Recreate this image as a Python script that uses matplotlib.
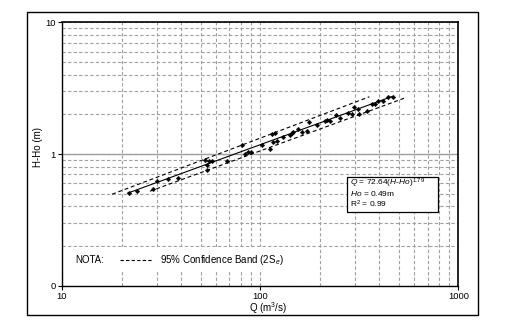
import matplotlib
matplotlib.use("Agg")
import matplotlib.pyplot as plt
from matplotlib.patches import Rectangle
from matplotlib.lines import Line2D
from matplotlib.ticker import FixedLocator, LogLocator, NullFormatter

plt.rcParams['font.family'] = ['Liberation Sans', 'DejaVu Sans']
plt.rcParams['mathtext.fontset'] = 'custom'
plt.rcParams['mathtext.rm'] = 'Liberation Sans'
plt.rcParams['mathtext.it'] = 'Liberation Sans:italic'

# ---- data ----
q_obs = [21.7, 23.9, 28.7, 30.1, 34.2, 38.4, 52.4, 53.8, 53.7, 55.5, 57.1, 67.8,
         80.9, 84.3, 87.0, 90.1, 102.0, 112.3, 114.6, 119.0, 116.7, 121.4, 131.1,
         141.7, 144.5, 147.2, 156.0, 162.3, 173.2, 177.3, 194.5, 211.5, 217.0,
         225.4, 241.7, 253.2, 278.8, 290.0, 297.9, 313.2, 315.0, 345.2, 365.9,
         380.2, 395.1, 415.8, 443.6, 465.8]
h_obs = [0.502, 0.526, 0.542, 0.624, 0.646, 0.657, 0.905, 0.822, 0.756, 0.890, 0.890, 0.882,
         1.170, 1.005, 1.036, 1.041, 1.177, 1.091, 1.426, 1.439, 1.223, 1.247, 1.341,
         1.389, 1.439, 1.469, 1.551, 1.469, 1.485, 1.744, 1.655, 1.790, 1.799,
         1.768, 1.964, 1.876, 2.034, 2.005, 2.275, 2.189, 2.005, 2.132, 2.401,
         2.410, 2.548, 2.517, 2.700, 2.714]

fit_q = [21.5, 465.0]
fit_h = [0.505, 2.74]
upper_q = [17.9, 356.0]
upper_h = [0.495, 2.72]
lower_q = [27.8, 540.0]
lower_h = [0.522, 2.67]

xticks = [10, 100, 1000]
xtick_labels = ['10', '100', '1000']
yticks = [0.1, 1, 10]
ytick_labels = ['0', '1', '10']

x_label = 'Q (m$^3$/s)'
y_label = 'H-Ho (m)'
note_label = 'NOTA:'
band_label = '95% Confidence Band (2S$_e$)'
eq_lines = ['$Q$ = 72.64($H$-$Ho$)$^{1.79}$', '$Ho$ = 0.49m', 'R$^2$ = 0.99']

# ---- figure ----
W, H = 513, 323
fig = plt.figure(figsize=(W / 100, H / 100), dpi=100)
ax_l, ax_r, ax_t, ax_b = 62, 458.3, 22.3, 285.7
ax = fig.add_axes([ax_l / W, 1 - ax_b / H, (ax_r - ax_l) / W, (ax_b - ax_t) / H])

# outer frame
fig.patches.append(Rectangle((27 / W, 1 - 315 / H), 451 / W, 303 / H,
                             transform=fig.transFigure, fill=False,
                             edgecolor='black', linewidth=1.0))

ax.set_xscale('log')
ax.set_yscale('log')
ax.set_xlim(10, 1000)
ax.set_ylim(0.1, 10)

ax.xaxis.set_major_locator(FixedLocator(xticks))
ax.set_xticklabels(xtick_labels)
ax.yaxis.set_major_locator(FixedLocator(yticks))
ax.set_yticklabels(ytick_labels)
ax.xaxis.set_minor_locator(LogLocator(base=10, subs=range(2, 10)))
ax.yaxis.set_minor_locator(LogLocator(base=10, subs=range(2, 10)))
ax.xaxis.set_minor_formatter(NullFormatter())
ax.yaxis.set_minor_formatter(NullFormatter())
ax.tick_params(which='minor', length=0)
ax.tick_params(which='major', length=3, width=0.8, direction='out', labelsize=6.8, pad=1.5)

gcol = '#a0a0a0'
ax.grid(True, which='both', color=gcol, linestyle=(0, (3, 2)), linewidth=0.8, zorder=0)
ax.set_axisbelow(True)
ax.axhline(1, color=gcol, linewidth=1.0, zorder=0.6)

for s in ax.spines.values():
    s.set_linewidth(1.0)
ax.spines['top'].set_linewidth(1.2)
ax.spines['right'].set_linewidth(1.2)

# white box behind the note
ax.add_patch(Rectangle((0.0, (ax_b - 271) / (ax_b - ax_t)), (300 - ax_l) / (ax_r - ax_l),
                       24 / (ax_b - ax_t), transform=ax.transAxes,
                       facecolor='white', edgecolor='none', zorder=0.8))

# lines
ax.plot(fit_q, fit_h, color='black', linewidth=0.8, zorder=3)
ax.plot(upper_q, upper_h, color='black', linewidth=0.8, linestyle=(0, (3.5, 2.5)), zorder=3)
ax.plot(lower_q, lower_h, color='black', linewidth=0.8, linestyle=(0, (3.5, 2.5)), zorder=3)
ax.plot(q_obs, h_obs, linestyle='none', marker='D', markersize=2.3,
        color='black', markeredgewidth=0.3, zorder=4)

# note
def fx(px):
    return (px - ax_l) / (ax_r - ax_l)

def fy(py):
    return (ax_b - py) / (ax_b - ax_t)

ax.text(fx(75), fy(260), note_label, transform=ax.transAxes, fontsize=7,
        va='center', ha='left', zorder=5)
ax.add_line(Line2D([fx(120), fx(153)], [fy(260), fy(260)], transform=ax.transAxes,
                   color='black', linewidth=0.8, linestyle=(0, (3, 2)), zorder=5))
ax.text(fx(160), fy(260), band_label, transform=ax.transAxes, fontsize=7,
        va='center', ha='left', zorder=5)

# equation box
ax.add_patch(Rectangle((fx(347), fy(212)), fx(438) - fx(347), fy(177) - fy(212),
                       transform=ax.transAxes, facecolor='white', edgecolor='black',
                       linewidth=0.9, zorder=5))
for i, line in enumerate(eq_lines):
    ax.text(fx(350), fy(183.5 + 10.5 * i), line, transform=ax.transAxes, fontsize=6.0,
            va='center', ha='left', zorder=6)

# axis labels
fig.text(268 / W, 1 - 308 / H, x_label, ha='center', va='center', fontsize=7)
fig.text(38 / W, 1 - 147 / H, y_label, ha='center', va='center', fontsize=7, rotation=90)

fig.savefig('out.png', dpi=100, facecolor='white')
